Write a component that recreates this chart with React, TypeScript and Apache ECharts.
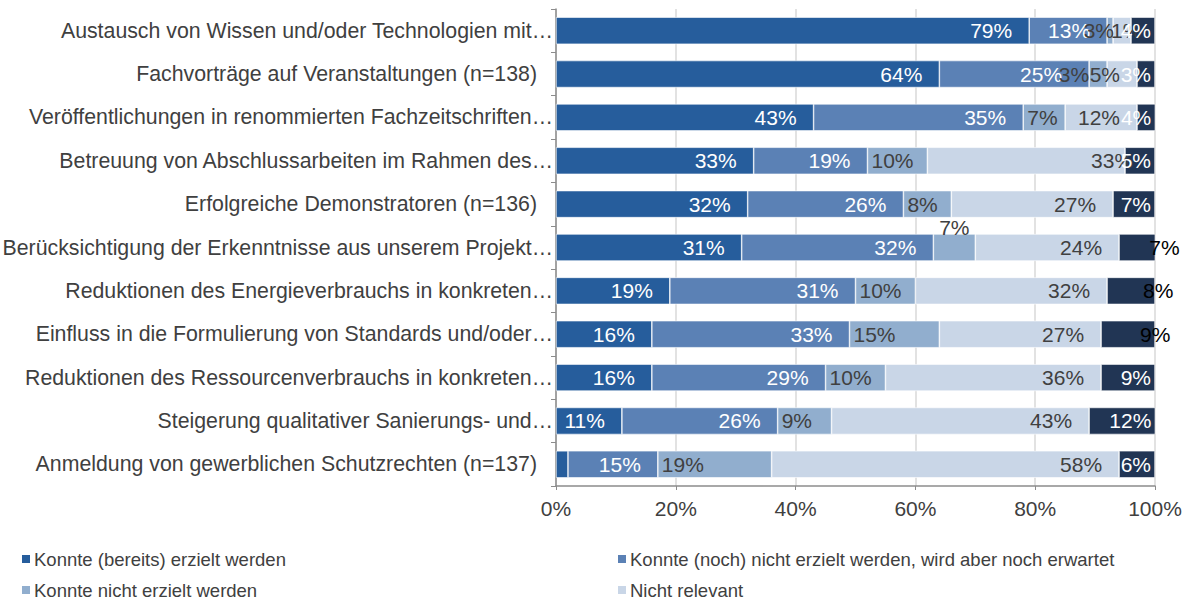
import React, { useEffect, useRef } from "react";
import * as echarts from "echarts";

const categories = [
  "Austausch von Wissen und/oder Technologien mit…",
  "Fachvorträge auf Veranstaltungen (n=138)",
  "Veröffentlichungen in renommierten Fachzeitschriften…",
  "Betreuung von Abschlussarbeiten im Rahmen des…",
  "Erfolgreiche Demonstratoren (n=136)",
  "Berücksichtigung der Erkenntnisse aus unserem Projekt…",
  "Reduktionen des Energieverbrauchs in konkreten…",
  "Einfluss in die Formulierung von Standards und/oder…",
  "Reduktionen des Ressourcenverbrauchs in konkreten…",
  "Steigerung qualitativer Sanierungs- und…",
  "Anmeldung von gewerblichen Schutzrechten (n=137)",
];

const seriesNames = [
  "Konnte (bereits) erzielt werden",
  "Konnte (noch) nicht erzielt werden, wird aber noch erwartet",
  "Konnte nicht erzielt werden",
  "Nicht relevant",
  "Keine Angabe",
];

const erzielt = [79, 64, 43, 33, 32, 31, 19, 16, 16, 11, 2];
const erwartet = [13, 25, 35, 19, 26, 32, 31, 33, 29, 26, 15];
const nichtErzielt = [1, 3, 7, 10, 8, 7, 10, 15, 10, 9, 19];
const nichtRelevant = [3, 5, 12, 33, 27, 24, 32, 27, 36, 43, 58];
const keineAngabe = [4, 3, 4, 5, 7, 7, 8, 9, 9, 12, 6];

const xTicks = [0, 20, 40, 60, 80, 100];

const colors = ["#265D9C", "#5B81B5", "#91AECE", "#C9D6E7", "#213554"];
const FONT = "'Liberation Sans', Arial, sans-serif";
const TXT = "#404040";

export default function App() {
  const ref = useRef<HTMLDivElement>(null);
  useEffect(() => {
    if (!ref.current) return;
    const chart = echarts.init(ref.current, null, { renderer: "svg" });
    const fmt = (p: any) => `${p.value}%`;

    const mk = (name: string, data: number[], idx: number, label: any, itemFn?: (v: number, i: number) => any) => ({
      name,
      type: "bar",
      stack: "total",
      barWidth: 27,
      itemStyle: { color: colors[idx], borderColor: "#ffffff", borderWidth: 0.6 },
      label: { show: true, formatter: fmt, fontSize: 21, fontFamily: FONT, ...label },
      data: data.map((v, i) => (itemFn ? itemFn(v, i) : v)),
    });

    const series = [
      mk(seriesNames[0], erzielt, 0, { position: "insideRight", distance: 17, color: "#ffffff" }, (v, i) =>
        i === 10 ? { value: v, label: { show: false } } : v
      ),
      mk(seriesNames[1], erwartet, 1, { position: "insideRight", distance: 17, color: "#ffffff" }, (v, i) =>
        i === 1 ? { value: v, label: { distance: 27 } } : v
      ),
      mk(seriesNames[2], nichtErzielt, 2, { position: "insideLeft", distance: 4, color: TXT }, (v, i) => {
        if (i === 5) return { value: v, label: { position: "top", distance: -4 } };
        if (i === 1) return { value: v, label: { position: "insideRight", distance: 18 } };
        return v;
      }),
      mk(seriesNames[3], nichtRelevant, 3, { position: "insideRight", distance: 17, color: TXT }, (v, i) => {
        if (i === 3) return { value: v, label: { distance: -8 } };
        return v;
      }),
      mk(seriesNames[4], keineAngabe, 4, { position: "insideRight", distance: 4, color: "#ffffff" }, (v, i) => {
        if (i === 5) return { value: v, label: { position: "right", distance: -6, color: "#000000" } };
        if (i === 6) return { value: v, label: { position: "right", distance: -12, color: "#000000" } };
        if (i === 7) return { value: v, label: { position: "right", distance: -15, color: "#000000" } };
        return v;
      }),
    ];

    const legendItem = (name: string, left: number, top: number) => ({
      orient: "horizontal",
      icon: "rect",
      itemWidth: 10,
      itemHeight: 10,
      padding: 0,
      left,
      top,
      data: [name],
      textStyle: { fontSize: 18.5, lineHeight: 19, color: TXT, fontFamily: FONT, padding: [0, 0, 0, -2] },
    });

    chart.setOption({
      animation: false,
      backgroundColor: "#ffffff",
      textStyle: { fontFamily: FONT },
      grid: { left: 556, right: 47, top: 9, bottom: 115, containLabel: false, outerBoundsMode: "none" },
      legend: [
        legendItem(seriesNames[0], 20, 549.5),
        legendItem(seriesNames[2], 20, 580.5),
        legendItem(seriesNames[1], 616, 549.5),
        legendItem(seriesNames[3], 616, 580.5),
      ],
      xAxis: {
        type: "value",
        min: 0,
        max: 100,
        interval: 20,
        axisLine: { show: true, lineStyle: { color: "#8C8C8C", width: 1.5 } },
        axisTick: { show: true, length: 4, lineStyle: { color: "#8C8C8C" } },
        splitLine: { show: true, lineStyle: { color: "#D9D9D9", width: 1.5 } },
        axisLabel: {
          formatter: (v: number) => (xTicks.includes(v) ? `${v}%` : ""),
          fontSize: 21,
          color: TXT,
          fontFamily: FONT,
          margin: 12,
        },
      },
      yAxis: {
        type: "category",
        inverse: true,
        data: categories,
        axisLine: { show: true, lineStyle: { color: "#8C8C8C", width: 1.5 } },
        axisTick: { show: true, length: 5, lineStyle: { color: "#8C8C8C" } },
        axisLabel: {
          fontSize: 21.3,
          color: TXT,
          fontFamily: FONT,
          margin: 3,
          formatter: (v: string) => (v.endsWith("…") ? v : `${v}{s|}`),
          rich: { s: { width: 16, fontSize: 21.3 } },
        },
      },
      series,
    });
    return () => chart.dispose();
  }, []);

  return (
    <div
      ref={ref}
      style={{ position: "fixed", left: 0, top: 0, width: 1202, height: 601, background: "#fff" }}
    />
  );
}
